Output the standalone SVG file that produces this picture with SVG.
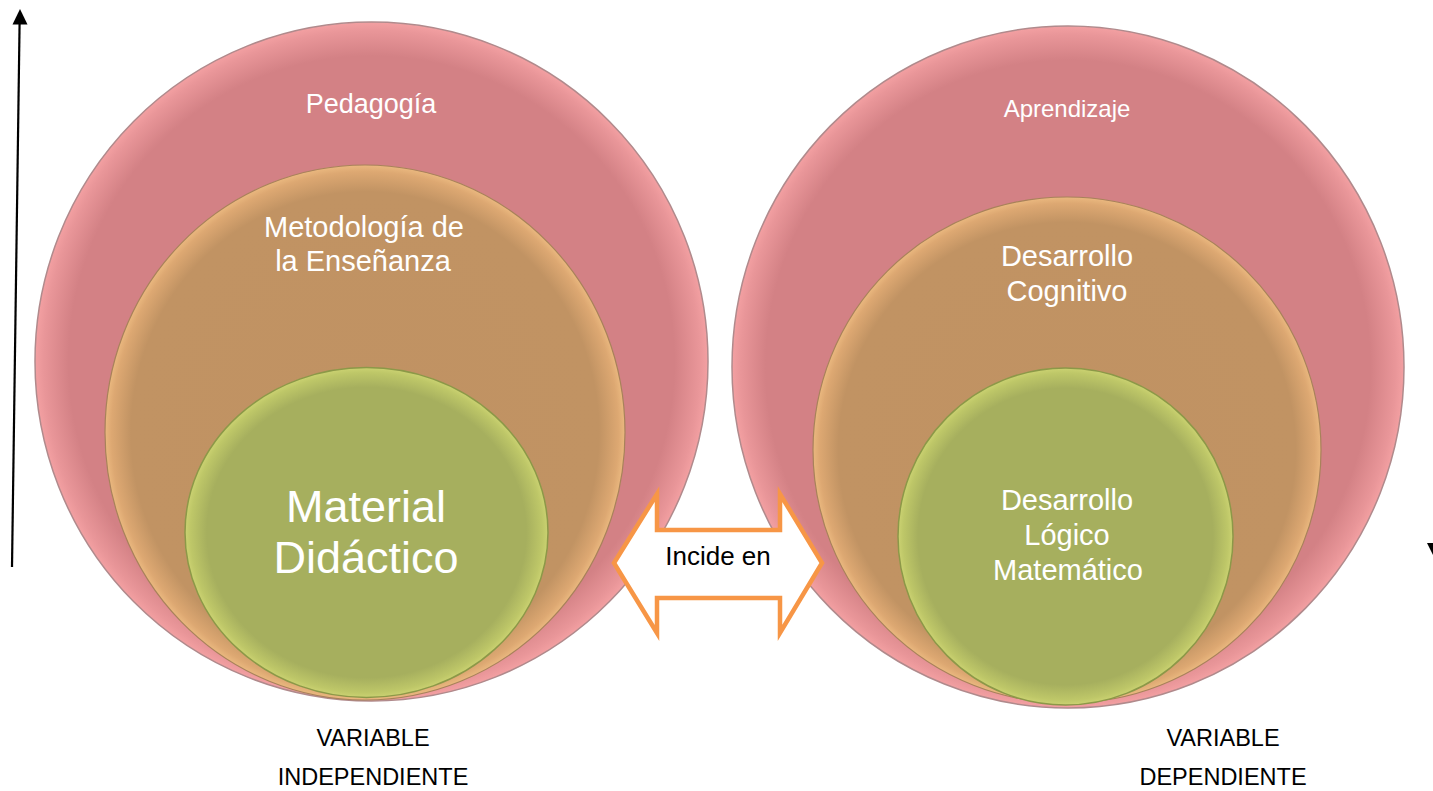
<svg xmlns="http://www.w3.org/2000/svg" width="1433" height="791" viewBox="0 0 1433 791">
<defs>
<radialGradient id="gPink" cx="0.5" cy="0.5" r="0.5">
<stop offset="0" stop-color="#D38185"/>
<stop offset="0.9" stop-color="#D38185"/>
<stop offset="0.975" stop-color="#E99699"/>
<stop offset="1" stop-color="#F3A0A2"/>
</radialGradient>
<radialGradient id="gOrange" cx="0.5" cy="0.5" r="0.5">
<stop offset="0" stop-color="#C09263"/>
<stop offset="0.9" stop-color="#C19363"/>
<stop offset="0.975" stop-color="#DDA872"/>
<stop offset="1" stop-color="#EAB87F"/>
</radialGradient>
<radialGradient id="gGreen" cx="0.5" cy="0.5" r="0.5">
<stop offset="0" stop-color="#A6AF5E"/>
<stop offset="0.88" stop-color="#A6AF5E"/>
<stop offset="0.97" stop-color="#BEC768"/>
<stop offset="1" stop-color="#CBD272"/>
</radialGradient>
<style>
.pink{fill:url(#gPink);stroke:#B08A8C;stroke-width:1.5}
.orange{fill:url(#gOrange);stroke:#A8825A;stroke-width:1.2}
.green{fill:url(#gGreen);stroke:#8C9848;stroke-width:1.5}
.w{fill:#FFFFFF;font-family:"Liberation Sans",Arial,sans-serif;text-anchor:middle}
.k{fill:#000000;font-family:"Liberation Sans",Arial,sans-serif;text-anchor:middle}
</style>
</defs>
<rect width="1433" height="791" fill="#FFFFFF"/>

<g id="left-pedagogia">
<ellipse class="pink" cx="371.5" cy="361.5" rx="336.5" ry="339.5"/>
<text class="w" x="371" y="113" font-size="27">Pedagogía</text>
</g>
<g id="left-metodologia">
<ellipse class="orange" cx="365" cy="432.5" rx="260" ry="267.5"/>
<text class="w" x="364" y="237" font-size="29">Metodología de</text>
<text class="w" x="363" y="271" font-size="29">la Enseñanza</text>
</g>
<g id="left-material">
<ellipse class="green" cx="366.5" cy="532.5" rx="181.5" ry="165"/>
<text class="w" x="366" y="522" font-size="45">Material</text>
<text class="w" x="366" y="573" font-size="45">Didáctico</text>
</g>

<g id="right-aprendizaje">
<ellipse class="pink" cx="1068" cy="367" rx="336" ry="341"/>
<text class="w" x="1067" y="117" font-size="24">Aprendizaje</text>
</g>
<g id="right-cognitivo">
<ellipse class="orange" cx="1067" cy="450" rx="254" ry="253"/>
<text class="w" x="1067" y="266" font-size="29">Desarrollo</text>
<text class="w" x="1067" y="301" font-size="29">Cognitivo</text>
</g>
<g id="right-logico">
<ellipse class="green" cx="1065.5" cy="536.5" rx="167.5" ry="168.5"/>
<text class="w" x="1067" y="510" font-size="29">Desarrollo</text>
<text class="w" x="1067" y="545" font-size="29">Lógico</text>
<text class="w" x="1068" y="580" font-size="29">Matemático</text>
</g>

<g id="incide-en">
<polygon points="614,563 657,494 657,530 780,530 780,494 822,563 780,633 780,598 657,598 657,633" fill="#FFFFFF" stroke="#F79646" stroke-width="4.5" stroke-linejoin="miter"/>
<text class="k" x="718" y="565" font-size="26">Incide en</text>
</g>

<g id="label-independiente">
<text class="k" x="373" y="746" font-size="23.5">VARIABLE</text>
<text class="k" x="373" y="785" font-size="23.5">INDEPENDIENTE</text>
</g>
<g id="label-dependiente">
<text class="k" x="1223" y="746" font-size="23.5">VARIABLE</text>
<text class="k" x="1223" y="785" font-size="23.5">DEPENDIENTE</text>
</g>

<g id="connectors">
<line x1="12" y1="567" x2="19.6" y2="22" stroke="#000" stroke-width="2.2"/>
<polygon points="20,9 27.5,24.5 12.5,24.5" fill="#000"/>
<polygon points="1427,543 1441,543 1434,557" fill="#000"/>
</g>
</svg>
